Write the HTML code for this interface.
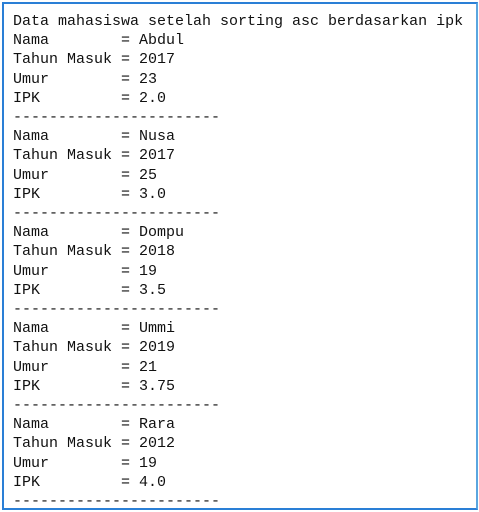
<!DOCTYPE html>
<html><head><meta charset="utf-8"><style>
html,body{margin:0;padding:0;background:#fff;}
body{width:479px;height:512px;position:relative;overflow:hidden;}
#frame{position:absolute;left:2px;top:2px;width:472px;height:504px;border:2px solid #2a7fd6;border-right-color:#5aa6e0;background:#fff;}
pre{position:absolute;left:13px;top:12px;margin:0;font-family:"Liberation Mono",monospace;font-size:15px;line-height:19.2px;color:#111;}
</style></head><body>
<div id="frame"></div>
<pre>Data mahasiswa setelah sorting asc berdasarkan ipk
Nama        = Abdul
Tahun Masuk = 2017
Umur        = 23
IPK         = 2.0
-----------------------
Nama        = Nusa
Tahun Masuk = 2017
Umur        = 25
IPK         = 3.0
-----------------------
Nama        = Dompu
Tahun Masuk = 2018
Umur        = 19
IPK         = 3.5
-----------------------
Nama        = Ummi
Tahun Masuk = 2019
Umur        = 21
IPK         = 3.75
-----------------------
Nama        = Rara
Tahun Masuk = 2012
Umur        = 19
IPK         = 4.0
-----------------------</pre>
</body></html>
